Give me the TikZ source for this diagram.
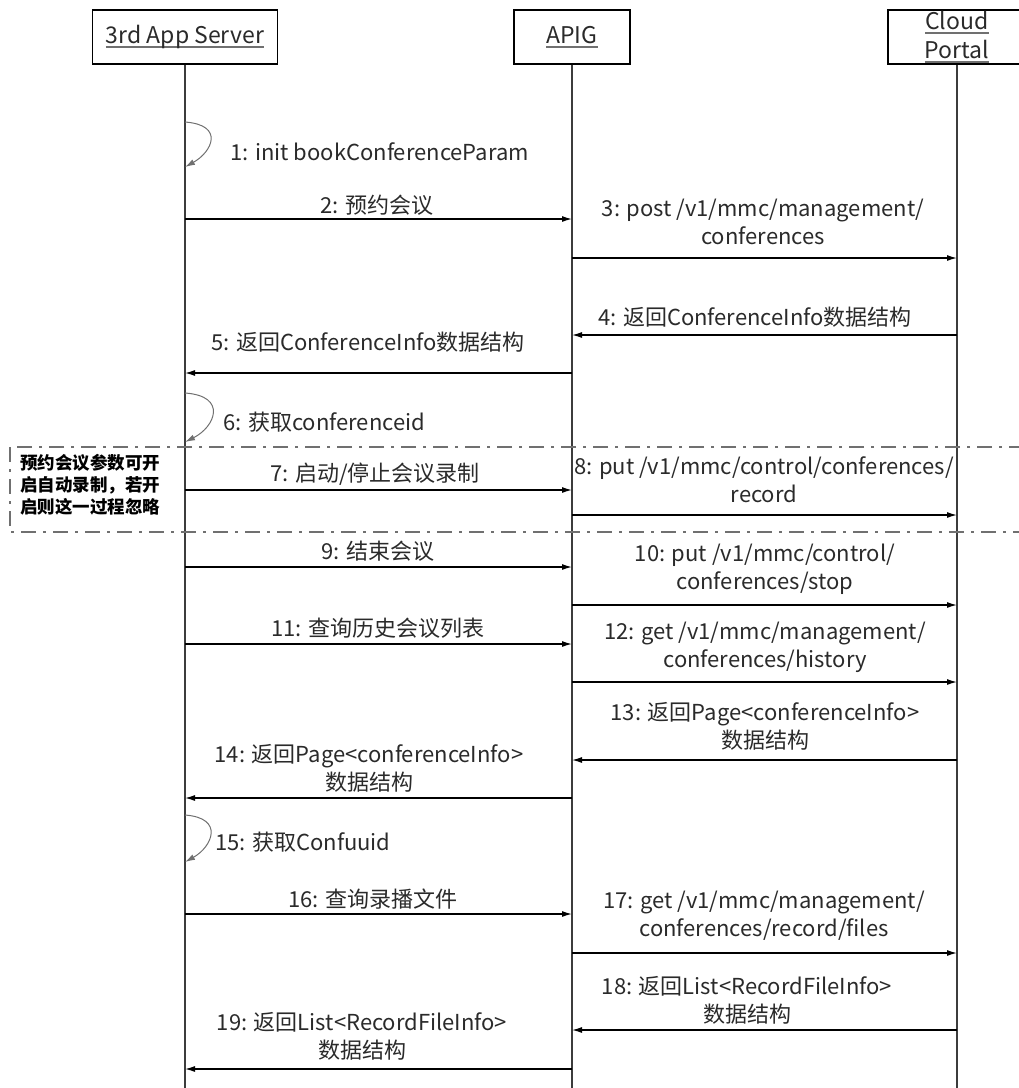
\documentclass[tikz,border=0pt]{standalone}
\usepackage{fontspec}
\setmainfont{Noto Sans CJK SC}
\usetikzlibrary{positioning,arrows.meta}
\definecolor{ink}{HTML}{2A2A2A}
\definecolor{lifeline}{HTML}{3C3C3C}
\definecolor{frame}{HTML}{707070}
\newcommand\ulname[1]{\setbox0\hbox{#1}\rlap{\raisebox{-4pt}{\color{frame}\rule{\wd0}{1.6pt}}}\box0}

\begin{document}
\begin{tikzpicture}[
  x=1pt, y=-1pt,
  font=\fontsize{22}{28}\selectfont,
  actor/.style={draw=black, line width=1.2pt, minimum height=54pt, inner sep=0pt, align=center, text=ink, font=\fontsize{23}{29}\selectfont},
  life/.style={draw=lifeline, line width=1.2pt},
  msg/.style={-{Latex[length=10pt,width=6pt]}, line width=1.3pt, draw=black},
  selfmsg/.style={-{Latex[length=10pt,width=6pt]}, line width=1pt, draw=frame},
  lbl/.style={text=ink, align=center, inner sep=0pt},
  note/.style={font=\bfseries\fontsize{17.5}{22}\selectfont, align=left, inner sep=0pt, text=black},
  frm/.style={draw=frame, line width=1.4pt, dash pattern=on 15pt off 7pt on 3pt off 7pt},
]
\useasboundingbox (0,0) rectangle (1019,1088);

% participants
\node[actor, minimum width=185pt] (srv) at (185,37) {\ulname{3rd App Server}};
\node[actor, minimum width=116pt] (apig) at (572,37) {\ulname{APIG}};
\node[actor, minimum width=138pt] (cloud) at (957,37) {\ulname{Cloud}\\\ulname{Portal}};
\draw[life] (srv.south) -- (srv.south |- 0,1088);
\draw[life] (apig.south) -- (apig.south |- 0,1088);
\draw[life] (cloud.south) -- (cloud.south |- 0,1088);

% optional recording block
\draw[frm] (10,447) rectangle (1040,532);
\node[note, anchor=west] (cond) at (20,485) {预约会议参数可开\\启自动录制，若开\\启则这一过程忽略};

% messages
\draw[selfmsg] (srv |- 0,122) .. controls (225,125) and (212,152) .. (srv |- 0,167);
\node[lbl, anchor=west] (m1) at (230,152) {1: init bookConferenceParam};
\draw[msg] (srv |- 0,219) -- (apig |- 0,219);
\node[lbl] (m2) at (377,205) {2: 预约会议};
\draw[msg] (apig |- 0,258) -- (cloud |- 0,258);
\node[lbl] (m3) at (763,222) {3: post /v1/mmc/management/\\conferences};
\draw[msg] (cloud |- 0,335) -- (apig |- 0,335);
\node[lbl] (m4) at (755,317) {4: 返回ConferenceInfo数据结构};
\draw[msg] (apig |- 0,373) -- (srv |- 0,373);
\node[lbl] (m5) at (368,342) {5: 返回ConferenceInfo数据结构};
\draw[selfmsg] (srv |- 0,393) .. controls (228,396) and (215,427) .. (srv |- 0,442);
\node[lbl, anchor=west] (m6) at (223,422) {6: 获取conferenceid};

\draw[msg] (srv |- 0,490) -- (apig |- 0,490);
\node[lbl] (m7) at (375,474) {7: 启动/停止会议录制};
\draw[msg] (apig |- 0,515) -- (cloud |- 0,515);
\node[lbl] (m8) at (764,480) {8: put /v1/mmc/control/conferences/\\record};

\draw[msg] (srv |- 0,567) -- (apig |- 0,567);
\node[lbl] (m9) at (378,551) {9: 结束会议};
\draw[msg] (apig |- 0,605) -- (cloud |- 0,605);
\node[lbl] (m10) at (765,569) {10: put /v1/mmc/control/\\conferences/stop};
\draw[msg] (srv |- 0,644) -- (apig |- 0,644);
\node[lbl] (m11) at (378,628) {11: 查询历史会议列表};
\draw[msg] (apig |- 0,682) -- (cloud |- 0,682);
\node[lbl] (m12) at (765,647) {12: get /v1/mmc/management/\\conferences/history};
\draw[msg] (cloud |- 0,760) -- (apig |- 0,760);
\node[lbl] (m13) at (765,726) {13: 返回Page<conferenceInfo>\\数据结构};
\draw[msg] (apig |- 0,798) -- (srv |- 0,798);
\node[lbl] (m14) at (369,768) {14: 返回Page<conferenceInfo>\\数据结构};
\draw[selfmsg] (srv |- 0,815) .. controls (225,818) and (212,847) .. (srv |- 0,862);
\node[lbl, anchor=west] (m15) at (215,842) {15: 获取Confuuid};
\draw[msg] (srv |- 0,914) -- (apig |- 0,914);
\node[lbl] (m16) at (373,899) {16: 查询录播文件};
\draw[msg] (apig |- 0,953) -- (cloud |- 0,953);
\node[lbl] (m17) at (764,916) {17: get /v1/mmc/management/\\conferences/record/files};
\draw[msg] (cloud |- 0,1030) -- (apig |- 0,1030);
\node[lbl] (m18) at (747,1000) {18: 返回List<RecordFileInfo>\\数据结构};
\draw[msg] (apig |- 0,1069) -- (srv |- 0,1069);
\node[lbl] (m19) at (362,1036) {19: 返回List<RecordFileInfo>\\数据结构};
\end{tikzpicture}
\end{document}
